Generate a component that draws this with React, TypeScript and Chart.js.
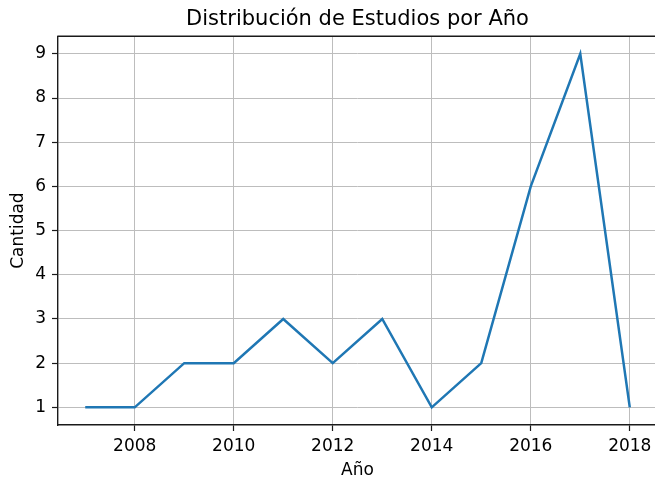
import React, { useEffect, useRef } from "react";
import { Chart, registerables } from "chart.js";

Chart.register(...registerables);

const years = [2007, 2008, 2009, 2010, 2011, 2012, 2013, 2014, 2015, 2016, 2017, 2018];
const counts = [1, 1, 2, 2, 3, 2, 3, 1, 2, 6, 9, 1];
const xTicks = [2008, 2010, 2012, 2014, 2016, 2018];
const yTicks = [1, 2, 3, 4, 5, 6, 7, 8, 9];
const titleText = "Distribución de Estudios por Año";
const xLabel = "Año";
const yLabel = "Cantidad";

const FONT = "'DejaVu Sans', sans-serif";

const framePlugin = {
  id: "frame",
  afterDraw(chart: any) {
    const { ctx, chartArea } = chart;
    ctx.save();
    ctx.strokeStyle = "#1a1a1a";
    ctx.lineWidth = 1.4;
    ctx.beginPath();
    ctx.moveTo(chartArea.left - 0.7, chartArea.top);
    ctx.lineTo(chartArea.right, chartArea.top);
    ctx.lineTo(chartArea.right, chartArea.bottom);
    ctx.stroke();
    ctx.restore();
  },
};

export default function App() {
  const ref = useRef<HTMLCanvasElement | null>(null);
  useEffect(() => {
    if (!ref.current) return;
    const chart = new Chart(ref.current, {
      type: "line",
      data: {
        datasets: [
          {
            data: years.map((y, i) => ({ x: y, y: counts[i] })),
            borderColor: "#1f77b4",
            borderWidth: 2.5,
            pointRadius: 0,
            tension: 0,
            fill: false,
          },
        ],
      },
      options: {
        animation: false,
        responsive: false,
        layout: { padding: { left: 0, right: 3, top: 0, bottom: 0 } },
        plugins: {
          legend: { display: false },
          tooltip: { enabled: false },
          title: {
            display: true,
            text: titleText,
            fullSize: false,
            color: "#000",
            font: { family: FONT, size: 21, weight: "normal" },
            padding: { top: 7, bottom: 4 },
          },
        },
        scales: {
          x: {
            type: "linear",
            min: 2006.45,
            max: 2018.55,
            afterBuildTicks: (s: any) => {
              s.ticks = xTicks.map((v) => ({ value: v }));
            },
            afterFit: (s: any) => {
              s.height = 58;
            },
            ticks: {
              color: "#000",
              font: { family: FONT, size: 17 },
              padding: 5,
              maxRotation: 0,
              autoSkip: false,
              callback: (v: any) => String(v),
            },
            grid: {
              color: "#bdbdbd",
              lineWidth: 1,
              tickLength: 6,
              tickColor: "#1a1a1a",
              tickWidth: 1.2,
            },
            border: { color: "#1a1a1a", width: 1.4 },
            title: {
              display: true,
              text: xLabel,
              color: "#000",
              font: { family: FONT, size: 17 },
              padding: { top: 0, bottom: 2 },
            },
          },
          y: {
            type: "linear",
            min: 0.6,
            max: 9.4,
            afterBuildTicks: (s: any) => {
              s.ticks = yTicks.map((v) => ({ value: v }));
            },
            afterFit: (s: any) => {
              s.width = 58;
            },
            ticks: {
              color: "#000",
              font: { family: FONT, size: 17 },
              padding: 6,
              autoSkip: false,
              callback: (v: any) => String(v),
            },
            grid: {
              color: "#bdbdbd",
              lineWidth: 1,
              tickLength: 6,
              tickColor: "#1a1a1a",
              tickWidth: 1.2,
            },
            border: { color: "#1a1a1a", width: 1.4 },
            title: {
              display: true,
              text: yLabel,
              color: "#000",
              font: { family: FONT, size: 17 },
              padding: { top: 8, bottom: 0 },
            },
          },
        },
      },
      plugins: [framePlugin],
    } as any);
    return () => chart.destroy();
  }, []);

  return (
    <div
      style={{
        position: "fixed",
        left: 0,
        top: 0,
        width: 655,
        height: 483,
        overflow: "hidden",
        background: "#ffffff",
      }}
    >
      <canvas ref={ref} width={660} height={483} style={{ display: "block" }} />
    </div>
  );
}
